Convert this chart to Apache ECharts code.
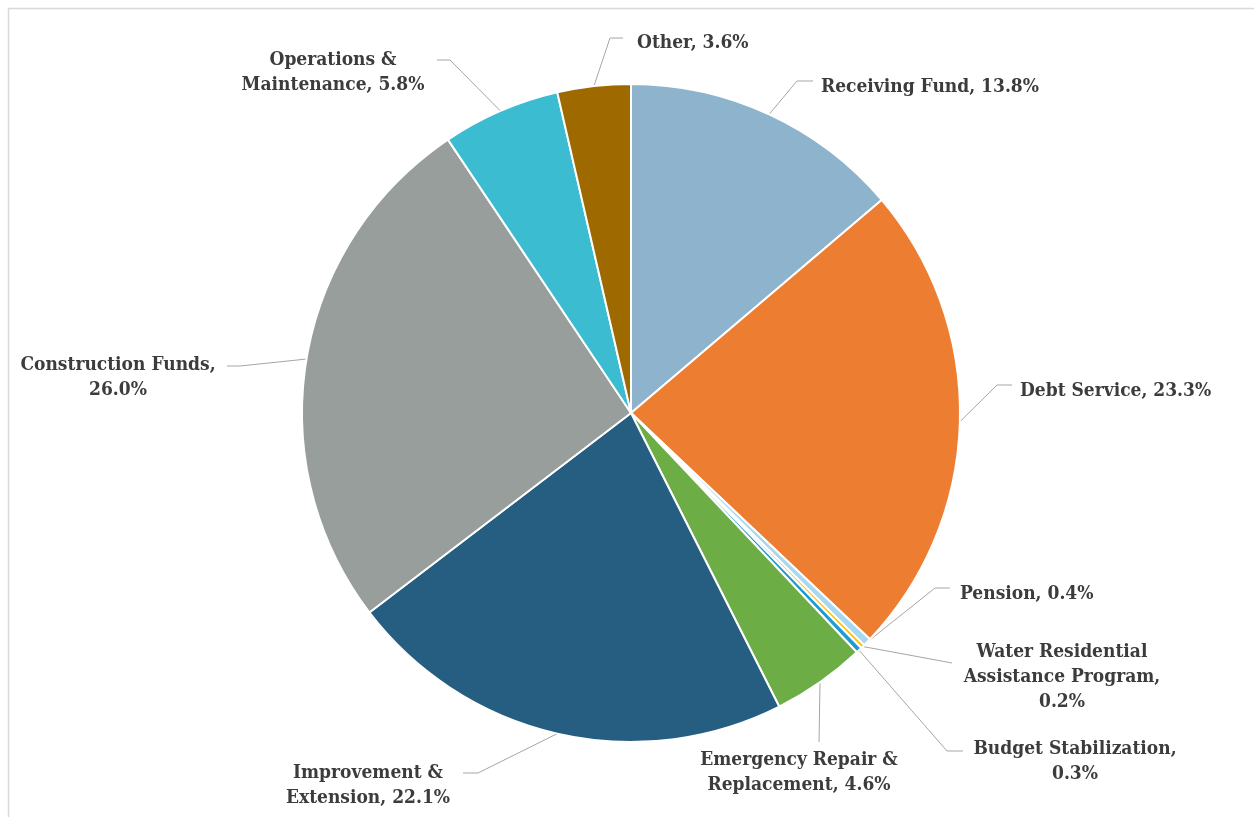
<!DOCTYPE html>
<html>
<head>
<meta charset="utf-8">
<script src="https://cdn.jsdelivr.net/npm/echarts@6/dist/echarts.min.js"></script>
<style>
html,body{margin:0;padding:0;background:#fff;}
#c{width:1254px;height:817px;}
</style>
</head>
<body>
<div id="c"></div>
<script>
// ---- data ----
var categories = ['Receiving Fund','Debt Service','Pension','Water Residential Assistance Program','Budget Stabilization','Emergency Repair & Replacement','Improvement & Extension','Construction Funds','Operations & Maintenance','Other'];
var shares = [13.8, 23.3, 0.4, 0.2, 0.3, 4.6, 22.1, 26.0, 5.8, 3.6];
var labelText = ['Receiving Fund, {v}','Debt Service, {v}','Pension, {v}','Water Residential\nAssistance Program,\n{v}','Budget Stabilization,\n{v}','Emergency Repair &\nReplacement, {v}','Improvement &\nExtension, {v}','Construction Funds,\n{v}','Operations &\nMaintenance, {v}','Other, {v}'];

// ---- styles / layout ----
var colors = ['#8DB4CC','#ED7D31','#A6D8F0','#FFC000','#1E9AD6','#6DAD46','#255E81','#989E9C','#3BBCD0','#9E6A00'];
var labelPos = [
  {x:821, y:87,  align:'left',   end:[813,81],  elbow:[797,81]},
  {x:1020,y:391, align:'left',   end:[1012,385],elbow:[997,385]},
  {x:960, y:594, align:'left',   end:[950,588], elbow:[935,588]},
  {x:1062,y:677, align:'center', end:[952,663], elbow:[882,650]},
  {x:1075,y:762, align:'center', end:[963,751], elbow:[947,751]},
  {x:799, y:773, align:'center', end:[819,742], elbow:null},
  {x:368, y:786, align:'center', end:[463,773], elbow:[478,773]},
  {x:118, y:378, align:'center', end:[227,366], elbow:[240,366]},
  {x:333, y:73,  align:'center', end:[437,60],  elbow:[450,60]},
  {x:637, y:43,  align:'left',   end:[623,38],  elbow:[610,38]}
];

var chart = echarts.init(document.getElementById('c'));
var data = categories.map(function(n,i){ return {name:n, value:shares[i], itemStyle:{color:colors[i]}}; });

chart.setOption({
  backgroundColor:'#ffffff',
  animation:false,
  graphic:[{type:'rect', shape:{x:8.5,y:8.5,width:1260,height:830}, style:{fill:'none', stroke:'#D9D9D9', lineWidth:1.5}}],
  series:[{
    type:'pie',
    center:[631,413],
    radius:[0,329],
    startAngle:90,
    clockwise:true,
    avoidLabelOverlap:false,
    data:data,
    itemStyle:{borderColor:'#ffffff', borderWidth:2},
    label:{
      show:true,
      position:'outside',
      fontFamily:'DejaVu Serif Condensed',
      fontWeight:'bold',
      fontSize:19,
      lineHeight:25,
      color:'#3C3C3C',
      formatter:function(p){ return labelText[p.dataIndex].replace('{v}', p.value.toFixed(1)+'%'); }
    },
    labelLine:{show:true, length:20, length2:10, lineStyle:{color:'#A6A6A6', width:1}},
    labelLayout:function(p){
      var L = labelPos[p.dataIndex];
      var anchor = p.labelLinePoints ? p.labelLinePoints[0] : L.end;
      var pts = L.elbow ? [anchor, L.elbow, L.end] : [anchor, L.end];
      return {x:L.x, y:L.y, align:L.align, verticalAlign:'middle', labelLinePoints:pts};
    },
    emphasis:{disabled:true}
  }]
});
</script>
</body>
</html>
